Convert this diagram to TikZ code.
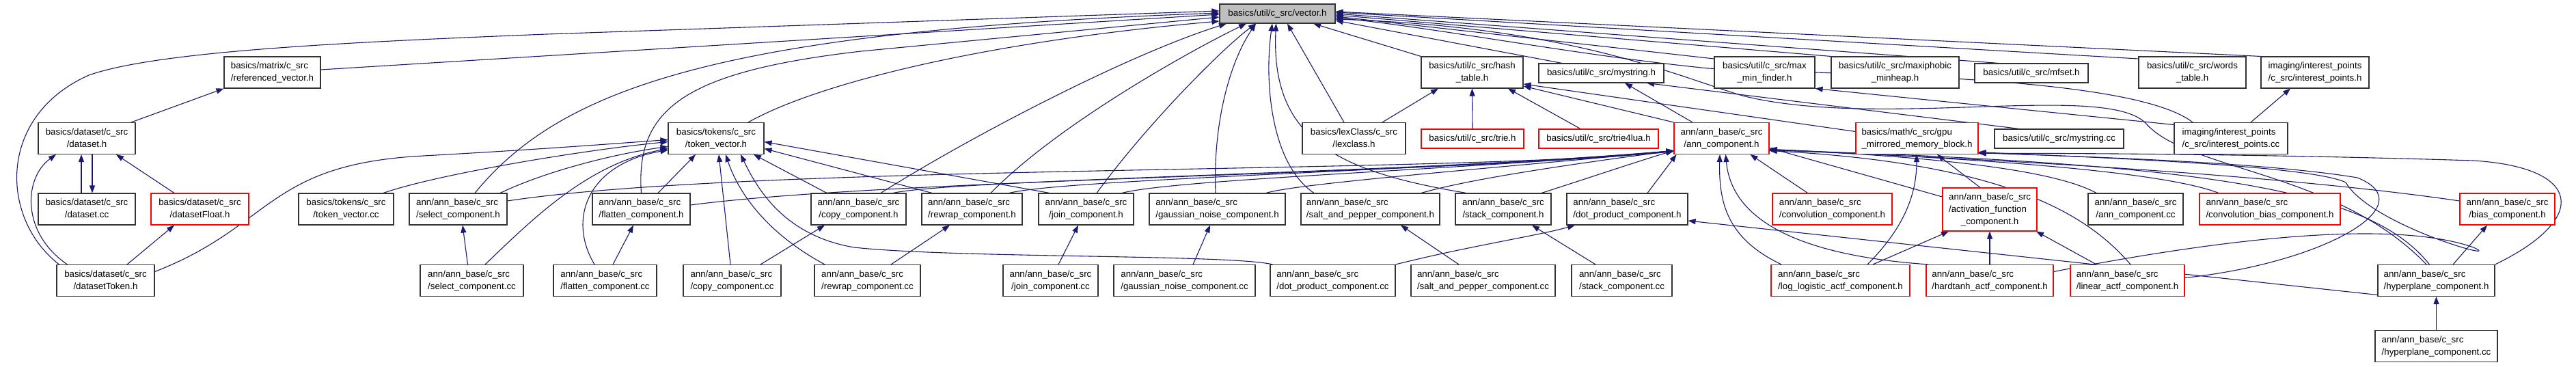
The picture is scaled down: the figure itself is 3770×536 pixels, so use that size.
\documentclass[tikz,border=0pt]{standalone}
\usepackage{fontspec}
\setmainfont{Liberation Sans}
\usetikzlibrary{arrows.meta,backgrounds}
\definecolor{edgec}{RGB}{25,25,112}
\definecolor{rootgray}{RGB}{191,191,191}
\newcommand{\TL}[2]{\begin{tabular}{@{}l@{}}#1\\\multicolumn{1}{@{}c@{}}{#2}\end{tabular}}
\newcommand{\THL}[3]{\begin{tabular}{@{}l@{}}#1\\#2\\\multicolumn{1}{@{}c@{}}{#3}\end{tabular}}
\newcommand{\AB}[1]{\TL{ann/ann\_base/c\_src}{#1}}
\tikzset{
  nbox/.style={draw=black!80, line width=1.1pt, fill=white, inner sep=0pt, minimum height=46pt, font=\fontsize{13.3}{18}\selectfont},
  rbox/.style={nbox, draw=red},
  oneline/.style={minimum height=28pt},
  edg/.style={draw=edgec, line width=1.1pt, -{Triangle[length=11pt,width=8pt]}},
}
\begin{document}
\begin{tikzpicture}[x=1pt,y=-1pt]
\useasboundingbox (0,0) rectangle (3770,536);
% row 1
\node[nbox,oneline,fill=rootgray,minimum width=169pt] (V) at (1869.5,20) {basics/util/c\_src/vector.h};
% row 2
\node[nbox,minimum width=141pt] (refvec) at (398.5,106) {\TL{basics/matrix/c\_src}{/referenced\_vector.h}};
\node[nbox,minimum width=149pt] (hash) at (2154.5,106) {\TL{basics/util/c\_src/hash}{\_table.h}};
\node[nbox,oneline,minimum width=183pt] (mystrh) at (2343.5,107) {basics/util/c\_src/mystring.h};
\node[nbox,minimum width=147pt] (maxmin) at (2582.5,106) {\TL{basics/util/c\_src/max}{\_min\_finder.h}};
\node[nbox,minimum width=187pt] (maxiph) at (2773.5,106) {\TL{basics/util/c\_src/maxiphobic}{\_minheap.h}};
\node[nbox,oneline,minimum width=166pt] (mfset) at (2973,107) {basics/util/c\_src/mfset.h};
\node[nbox,minimum width=157pt] (words) at (3208.5,106) {\TL{basics/util/c\_src/words}{\_table.h}};
\node[nbox,minimum width=158pt] (iph) at (3388,106) {\TL{imaging/interest\_points}{/c\_src/interest\_points.h}};
% row 3
\node[nbox,minimum width=142pt] (dataseth) at (127,202.5) {\TL{basics/dataset/c\_src}{/dataset.h}};
\node[nbox,minimum width=140pt] (tokvec) at (1048,202.5) {\TL{basics/tokens/c\_src}{/token\_vector.h}};
\node[nbox,minimum width=151pt] (lex) at (1981.5,202.5) {\TL{basics/lexClass/c\_src}{/lexclass.h}};
\node[rbox,oneline,minimum width=150pt] (trie) at (2155,203) {basics/util/c\_src/trie.h};
\node[rbox,oneline,minimum width=175pt] (trie4lua) at (2339.5,203) {basics/util/c\_src/trie4lua.h};
\node[rbox,minimum width=139pt] (annc) at (2519.5,202.5) {\AB{/ann\_component.h}};
\node[rbox,minimum width=179pt] (gpu) at (2805.5,202.5) {\TL{basics/math/c\_src/gpu}{\_mirrored\_memory\_block.h}};
\node[nbox,oneline,minimum width=189pt] (mystrcc) at (3013.5,203) {basics/util/c\_src/mystring.cc};
\node[nbox,minimum width=166pt] (ipcc) at (3265,202.5) {\TL{imaging/interest\_points}{/c\_src/interest\_points.cc}};
% row 4
\node[nbox,minimum width=142pt] (dscc) at (127,306) {\TL{basics/dataset/c\_src}{/dataset.cc}};
\node[rbox,minimum width=143pt] (dsfloat) at (292.5,306) {\TL{basics/dataset/c\_src}{/datasetFloat.h}};
\node[nbox,minimum width=139pt] (tokcc) at (506.5,306) {\TL{basics/tokens/c\_src}{/token\_vector.cc}};
\node[nbox,minimum width=143pt] (selh) at (670.5,306) {\AB{/select\_component.h}};
\node[nbox,minimum width=143pt] (flath) at (938.5,306) {\AB{/flatten\_component.h}};
\node[nbox,minimum width=139pt] (copyh) at (1256.5,306) {\AB{/copy\_component.h}};
\node[nbox,minimum width=147pt] (rewraph) at (1422.5,306) {\AB{/rewrap\_component.h}};
\node[nbox,minimum width=139pt] (joinh) at (1589.5,306) {\AB{/join\_component.h}};
\node[nbox,minimum width=199pt] (gaussh) at (1781.5,306) {\AB{/gaussian\_noise\_component.h}};
\node[nbox,minimum width=203pt] (salth) at (2005.5,306) {\AB{/salt\_and\_pepper\_component.h}};
\node[nbox,minimum width=140pt] (stackh) at (2200,306) {\AB{/stack\_component.h}};
\node[nbox,minimum width=177pt] (doth) at (2381.5,306) {\AB{/dot\_product\_component.h}};
\node[rbox,minimum width=175pt] (convh) at (2681.5,306) {\AB{/convolution\_component.h}};
\node[rbox,minimum width=138pt,minimum height=63pt] (actf) at (2912,306.5) {\THL{ann/ann\_base/c\_src}{/activation\_function}{\_component.h}};
\node[nbox,minimum width=139pt] (anncc) at (3125.5,306) {\AB{/ann\_component.cc}};
\node[rbox,minimum width=206pt] (convbias) at (3322,306) {\AB{/convolution\_bias\_component.h}};
\node[rbox,minimum width=139pt] (bias) at (3669.5,306) {\AB{/bias\_component.h}};
% row 5
\node[nbox,minimum width=143pt] (dtok) at (154.5,410.5) {\TL{basics/dataset/c\_src}{/datasetToken.h}};
\node[nbox,minimum width=151pt] (selcc) at (690.5,410.5) {\AB{/select\_component.cc}};
\node[nbox,minimum width=151pt] (flatcc) at (885.5,410.5) {\AB{/flatten\_component.cc}};
\node[nbox,minimum width=143pt] (copycc) at (1071.5,410.5) {\AB{/copy\_component.cc}};
\node[nbox,minimum width=155pt] (rewrapcc) at (1269.5,410.5) {\AB{/rewrap\_component.cc}};
\node[nbox,minimum width=139pt] (joincc) at (1537.5,410.5) {\AB{/join\_component.cc}};
\node[nbox,minimum width=207pt] (gausscc) at (1733.5,410.5) {\AB{/gaussian\_noise\_component.cc}};
\node[nbox,minimum width=183pt] (dotcc) at (1950.5,410.5) {\AB{/dot\_product\_component.cc}};
\node[nbox,minimum width=211pt] (saltcc) at (2170.5,410.5) {\AB{/salt\_and\_pepper\_component.cc}};
\node[nbox,minimum width=147pt] (stackcc) at (2373.5,410.5) {\AB{/stack\_component.cc}};
\node[rbox,minimum width=203pt] (loglog) at (2693.5,410.5) {\AB{/log\_logistic\_actf\_component.h}};
\node[rbox,minimum width=186pt] (hardtanh) at (2912,410.5) {\AB{/hardtanh\_actf\_component.h}};
\node[rbox,minimum width=167pt] (linear) at (3113.5,410.5) {\AB{/linear\_actf\_component.h}};
\node[nbox,minimum width=171pt] (hyph) at (3565.5,410.5) {\AB{/hyperplane\_component.h}};
% row 6
\node[nbox,minimum width=179pt] (hypcc) at (3565.5,506.5) {\AB{/hyperplane\_component.cc}};

\begin{pgfonlayer}{background}
% into vector.h
\draw[edg] ([yshift=4pt]refvec.east) -- ([yshift=-1pt]V.west);
\draw[edg] ([xshift=-68pt]dtok.north) .. controls (0,320) and (-5,170) .. (130,110) .. controls (230,75) and (500,62) .. (800,50) -- ([yshift=4pt]V.west);
\draw[edg] ([xshift=47pt]tokvec.north) .. controls (1200,120) and (1450,60) .. ([yshift=-11pt]V.west);
\draw[edg] ([xshift=24.5pt]selh.north) .. controls (820,130) and (1050,45) .. ([yshift=1pt]V.west);
\draw[edg] (flath.north) .. controls (930,160) and (1000,105) .. (1260,75) -- ([yshift=-5pt]V.west);
\draw[edg] ([xshift=32.5pt]copyh.north) .. controls (1420,200) and (1650,80) .. ([xshift=-74.5pt]V.south);
\draw[edg] ([xshift=27.5pt]rewraph.north) .. controls (1550,180) and (1750,70) .. ([xshift=-45.5pt]V.south);
\draw[edg] ([xshift=15.5pt]joinh.north) .. controls (1680,180) and (1790,70) .. ([xshift=-31.5pt]V.south);
\draw[edg] ([xshift=-2.5pt]gaussh.north) .. controls (1775,180) and (1800,90) .. ([xshift=-31.5pt]V.south);
\draw[edg] ([xshift=-82.5pt]salth.north) .. controls (1860,240) and (1850,120) .. ([xshift=-7.5pt]V.south);
\draw[edg] ([xshift=-54pt]stackh.north) .. controls (1950,250) and (1860,200) .. ([xshift=-2pt]V.south);
\draw[edg] ([xshift=-14.5pt]lex.north) -- ([xshift=14.5pt]V.south);
\draw[edg] (hash.north west) -- ([xshift=52.5pt]V.south);
\draw[edg] ([xshift=-57.5pt]mystrh.north) -- ([yshift=-10pt]V.east);
\draw[edg] ([yshift=20pt]maxmin.west) -- ([yshift=-4pt]V.east);
\draw[edg] (maxiph.north west) -- ([yshift=-2pt]V.east);
\draw[edg] ([xshift=-48pt]mfset.north) -- ([yshift=0pt]V.east);
\draw[edg] ([yshift=20pt]words.west) -- ([yshift=2pt]V.east);
\draw[edg] (iph.north west) -- ([yshift=3pt]V.east);
\draw[edg] ([xshift=-56pt]ipcc.north) .. controls (3120,110) and (2700,110) .. (2500,100) .. controls (2300,80) and (2100,40) .. ([yshift=-6pt]V.east);
\draw[edg] ([xshift=-14.5pt]hyph.north) .. controls (3420,250) and (3200,250) .. (3140,180) .. controls (3080,120) and (2750,190) .. (2550,140) .. controls (2450,110) and (2300,40) .. ([yshift=-8pt]V.east);
% dataset group
\draw[edg] ([xshift=-56pt]dtok.north) .. controls (30,340) and (35,260) .. ([xshift=-45pt]dataseth.south);
\draw[edg] ([xshift=-8pt]dscc.north) -- ([xshift=-8pt]dataseth.south);
\draw[edg] ([xshift=8pt]dataseth.south) -- ([xshift=8pt]dscc.north);
\draw[edg] ([xshift=-37.5pt]dsfloat.north) -- ([xshift=43pt]dataseth.south);
\draw[edg] ([xshift=31.5pt]dtok.north) -- ([xshift=-37.5pt]dsfloat.south);
\draw[edg] ([xshift=65pt]dataseth.north) -- (refvec.south west);
% into token_vector.h
\draw[edg] ([yshift=13pt]dtok.east) .. controls (400,330) and (390,240) .. (620,228) .. controls (800,218) and (900,210) .. ([yshift=-2pt]tokvec.west);
\draw[edg] ([xshift=54.5pt]tokcc.north) .. controls (640,255) and (850,220) .. ([yshift=-5pt]tokvec.west);
\draw[edg] ([xshift=61.5pt]selh.north) .. controls (800,250) and (900,225) .. ([yshift=-12pt]tokvec.west);
\draw[edg] ([xshift=19.5pt]selcc.north) .. controls (780,320) and (860,240) .. ([yshift=-15pt]tokvec.west);
\draw[edg] ([xshift=-15.5pt]flatcc.north) .. controls (830,320) and (860,240) .. ([yshift=-17pt]tokvec.west);
\draw[edg] ([xshift=24.5pt]flath.north) -- ([xshift=-30pt]tokvec.south);
\draw[edg] ([xshift=-2.5pt]copycc.north) -- ([xshift=4pt]tokvec.south);
\draw[edg] ([xshift=-62.5pt]rewrapcc.north) .. controls (1120,340) and (1080,280) .. ([xshift=14pt]tokvec.south);
\draw[edg] ([xshift=-88pt]dotcc.north) .. controls (1800,372) and (1400,378) .. (1250,362) .. controls (1150,345) and (1110,280) .. ([xshift=36pt]tokvec.south);
\draw[edg] ([xshift=-46.5pt]copyh.north) -- ([xshift=55pt]tokvec.south);
\draw[edg] ([xshift=-58.5pt]rewraph.north) -- ([yshift=-15pt]tokvec.east);
\draw[edg] ([xshift=-53.5pt]joinh.north) -- ([yshift=-5pt]tokvec.east);
% into ann_component.h
\draw[edg] ([yshift=12pt]selh.east) .. controls (1100,240) and (2100,255) .. ([yshift=-19pt]annc.west);
\draw[edg] ([yshift=6pt]flath.east) .. controls (1300,262) and (2100,255) .. ([yshift=-19pt]annc.west);
\draw[edg] ([xshift=50.5pt]copyh.north) .. controls (1400,262) and (2100,252) .. ([yshift=-18pt]annc.west);
\draw[edg] ([xshift=54.5pt]rewraph.north) .. controls (1560,262) and (2100,250) .. ([yshift=-18pt]annc.west);
\draw[edg] ([xshift=52.5pt]joinh.north) .. controls (1720,262) and (2150,248) .. ([yshift=-18pt]annc.west);
\draw[edg] ([xshift=71.5pt]gaussh.north) .. controls (1900,268) and (2200,245) .. ([yshift=-18pt]annc.west);
\draw[edg] ([xshift=74.5pt]salth.north) .. controls (2150,262) and (2300,240) .. ([yshift=-18pt]annc.west);
\draw[edg] ([xshift=56pt]stackh.north) .. controls (2320,262) and (2400,235) .. ([yshift=-18pt]annc.west);
\draw[edg] ([xshift=29.5pt]doth.north) -- ([xshift=-66pt]annc.south);
\draw[edg] ([xshift=-86.5pt]loglog.north) .. controls (2530,350) and (2515,300) .. ([xshift=-2.5pt]annc.south);
\draw[edg] ([xshift=-90pt]hardtanh.north) .. controls (2650,375) and (2535,330) .. ([xshift=6pt]annc.south);
\draw[edg] ([xshift=-36pt]convh.north) -- ([xshift=42pt]annc.south);
\draw[edg] ([yshift=18.5pt]actf.west) -- ([yshift=-14pt]annc.east);
\draw[edg] ([xshift=-57.5pt]anncc.north) .. controls (3000,245) and (2800,228) .. ([yshift=-16pt]annc.east);
\draw[edg] ([xshift=-75pt]convbias.north) .. controls (3150,245) and (2800,228) .. ([yshift=-16pt]annc.east);
\draw[edg] ([yshift=12pt]bias.west) .. controls (3300,250) and (2800,228) .. ([yshift=-17pt]annc.east);
\draw[edg] ([xshift=4.5pt]linear.north) .. controls (3060,320) and (2950,240) .. ([yshift=-18pt]annc.east);
\draw[edg] ([xshift=-10pt]hyph.north) .. controls (3470,280) and (3250,240) .. ([yshift=-17pt]annc.east);
% upper utilities
\draw[edg] (annc.north west) -- ([yshift=-20pt]hash.east);
\draw[edg] ([xshift=-42.5pt]annc.north) -- ([xshift=34.5pt]mystrh.south);
\draw[edg] ([yshift=10pt]gpu.west) -- ([yshift=-17pt]hash.east);
\draw[edg] ([xshift=-58.5pt]mystrcc.north) -- ([xshift=66.5pt]mystrh.south);
\draw[edg] ([xshift=41.5pt]lex.north) -- ([xshift=-49.5pt]hash.south);
\draw[edg] (trie.north) -- (hash.south);
\draw[edg] ([xshift=-26.5pt]trie4lua.north) -- ([xshift=52.5pt]hash.south);
\draw[edg] ([yshift=20pt]ipcc.west) -- (maxmin.south east);
\draw[edg] ([xshift=29pt]ipcc.north) -- ([xshift=-36pt]iph.south);
% gpu mirrored memory block
\draw[edg] ([xshift=-14pt]actf.north) -- ([xshift=29.5pt]gpu.south);
\draw[edg] ([xshift=39.5pt]loglog.north) .. controls (2790,330) and (2805,280) .. ([xshift=-0.5pt]gpu.south);
\draw[edg] (hyph.north east) .. controls (3790,320) and (3780,245) .. (3620,235) .. controls (3300,225) and (3000,224) .. ([yshift=-22pt]gpu.east);
\draw[edg] ([yshift=13pt]hardtanh.east) .. controls (3250,350) and (3500,320) .. (3620,362) .. controls (3670,385) and (3470,330) .. (3433,267) .. controls (3380,240) and (3000,228) .. ([yshift=-20pt]gpu.east);
\draw[edg] ([yshift=4pt]linear.east) .. controls (3400,385) and (3550,300) .. (3450,260) .. controls (3300,235) and (3000,228) .. ([yshift=-21pt]gpu.east);
% activation function
\draw[edg] ([xshift=47.5pt]loglog.north) -- ([xshift=-60pt]actf.south);
\draw[edg] (hardtanh.north) -- (actf.south);
\draw[edg] ([xshift=-45.5pt]linear.north) -- ([xshift=68pt]actf.south);
% sources to headers
\draw[edg] ([xshift=-6pt]selcc.north) -- ([xshift=6.5pt]selh.south);
\draw[edg] ([xshift=11.5pt]flatcc.north) -- ([xshift=-11.5pt]flath.south);
\draw[edg] ([xshift=41.5pt]copycc.north) -- ([xshift=-49.5pt]copyh.south);
\draw[edg] ([xshift=34.5pt]rewrapcc.north) -- ([xshift=-32.5pt]rewraph.south);
\draw[edg] ([xshift=11.5pt]joincc.north) -- ([xshift=-11.5pt]joinh.south);
\draw[edg] ([xshift=12.5pt]gausscc.north) -- ([xshift=-10.5pt]gaussh.south);
\draw[edg] (dotcc.north east) .. controls (2150,360) and (2250,345) .. ([xshift=-76.5pt]doth.south);
\draw[edg] ([xshift=-35.5pt]saltcc.north) -- ([xshift=44.5pt]salth.south);
\draw[edg] ([xshift=-38.5pt]stackcc.north) -- ([xshift=42pt]stackh.south);
\draw[edg] (hypcc.north) -- (hyph.south);
\draw[edg] ([yshift=-21pt]hyph.west) -- ([yshift=-17pt]doth.east);
\draw[edg] ([xshift=24.5pt]hyph.north) -- ([xshift=-29.5pt]bias.south);
\end{pgfonlayer}
\end{tikzpicture}
\end{document}
